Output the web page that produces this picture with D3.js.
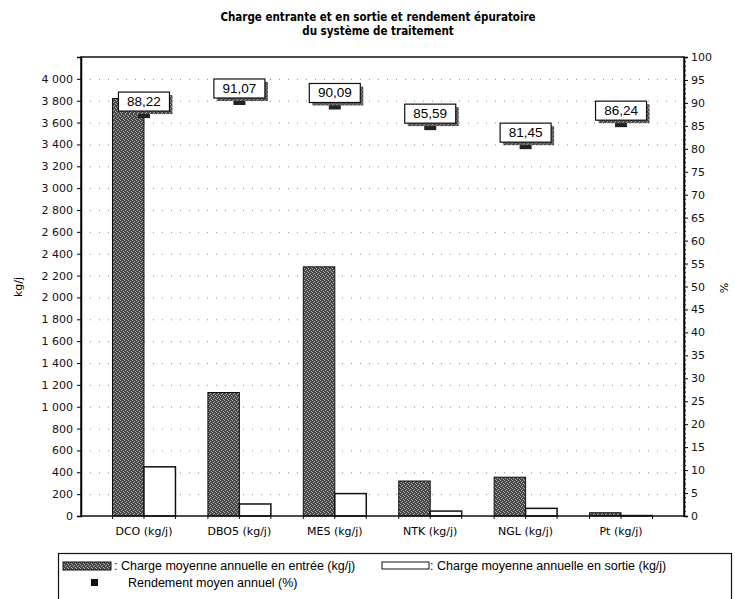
<!DOCTYPE html>
<html>
<head>
<meta charset="utf-8">
<script src="https://cdn.jsdelivr.net/npm/d3@7"></script>
<style>
  body { margin: 0; background: #fff; }
  svg { display: block; }
</style>
</head>
<body>
<svg id="chart"></svg>
<script>
// values
const categories = ["DCO (kg/j)", "DBO5 (kg/j)", "MES (kg/j)", "NTK (kg/j)", "NGL (kg/j)", "Pt (kg/j)"];
const chargeEntree = [3820, 1130, 2280, 320, 355, 30];
const chargeSortie = [450, 110, 205, 45, 70, 4];
const rendement = [88.22, 91.07, 90.09, 85.59, 81.45, 86.24];
const leftTicks = d3.range(0, 4001, 200);
const rightTicks = d3.range(0, 101, 5);
const titleLines = ["Charge entrante et en sortie et rendement épuratoire", "du système de traitement"];
const legendLabels = [
  "Charge moyenne annuelle en entrée (kg/j)",
  "Charge moyenne annuelle en sortie (kg/j)",
  "Rendement moyen annuel (%)"
];

const width = 735, height = 599;
const plotLeft = 81, plotRight = 684, plotTop = 57, plotBottom = 516;

const fr = d3.formatLocale({ decimal: ",", thousands: " ", grouping: [3], currency: ["", " €"] });
const fmtKg = fr.format(",");
const fmtPct = fr.format(".2f");

const svg = d3.select("#chart").attr("width", width).attr("height", height);

// stippled dark fill like the scanned bars
const defs = svg.append("defs");
const pat = defs.append("pattern")
  .attr("id", "stipple")
  .attr("width", 4).attr("height", 4)
  .attr("patternUnits", "userSpaceOnUse");
pat.append("rect").attr("width", 4).attr("height", 4).attr("fill", "#464646");
[[0, 0], [2, 1], [1, 2], [3, 3]].forEach(([px, py]) => {
  pat.append("rect").attr("x", px).attr("y", py).attr("width", 1).attr("height", 1).attr("fill", "#b0b0b0");
});

const x = d3.scaleBand()
  .domain(categories)
  .range([plotLeft, plotRight])
  .paddingInner(0.34)
  .paddingOuter(0.33);
const yL = d3.scaleLinear().domain([0, 4200]).range([plotBottom, plotTop]);
const yR = d3.scaleLinear().domain([0, 100]).range([plotBottom, plotTop]);
const half = x.bandwidth() / 2;

// title
svg.append("g")
  .selectAll("text")
  .data(titleLines)
  .enter()
  .append("text")
  .attr("x", 378)
  .attr("y", (d, i) => 21 + i * 14)
  .attr("text-anchor", "middle")
  .style("font-family", "'DejaVu Sans Condensed', 'DejaVu Sans', sans-serif")
  .style("font-weight", "bold")
  .style("font-size", "11.5px")
  .text((d) => d);

// dotted grid
svg.append("g")
  .selectAll("line")
  .data(leftTicks.filter((d) => d > 0))
  .enter()
  .append("line")
  .attr("x1", plotLeft).attr("x2", plotRight)
  .attr("y1", (d) => yL(d) + 0.5).attr("y2", (d) => yL(d) + 0.5)
  .attr("stroke", "#888")
  .attr("stroke-dasharray", "1,8");

// bars
const groups = svg.append("g")
  .selectAll("g")
  .data(categories)
  .enter()
  .append("g");

groups.append("rect")
  .attr("x", (d) => x(d))
  .attr("y", (d, i) => yL(chargeEntree[i]))
  .attr("width", half)
  .attr("height", (d, i) => plotBottom - yL(chargeEntree[i]))
  .attr("fill", "url(#stipple)")
  .attr("stroke", "#111")
  .attr("stroke-width", 1);

groups.append("rect")
  .attr("x", (d) => x(d) + half)
  .attr("y", (d, i) => yL(chargeSortie[i]))
  .attr("width", half)
  .attr("height", (d, i) => plotBottom - yL(chargeSortie[i]))
  .attr("fill", "#fff")
  .attr("stroke", "#111")
  .attr("stroke-width", 1.5);

// frame + axes
svg.append("rect")
  .attr("x", plotLeft).attr("y", plotTop)
  .attr("width", plotRight - plotLeft).attr("height", plotBottom - plotTop)
  .attr("fill", "none")
  .attr("stroke", "#111")
  .attr("stroke-width", 1.5);

const axisFont = (g) => g.selectAll("text")
  .style("font-family", "'DejaVu Sans', sans-serif")
  .style("font-size", "11px")
  .attr("fill", "#111");

const gLeft = svg.append("g")
  .attr("transform", `translate(${plotLeft},0)`)
  .call(d3.axisLeft(yL).tickValues(leftTicks).tickFormat(fmtKg).tickSize(4).tickPadding(4));
gLeft.select(".domain").attr("stroke-width", 1.5);
axisFont(gLeft);

const gRight = svg.append("g")
  .attr("transform", `translate(${plotRight},0)`)
  .call(d3.axisRight(yR).tickValues(rightTicks).tickSize(4).tickPadding(3));
gRight.select(".domain").attr("stroke-width", 1.5);
axisFont(gRight);

// minor ticks on the % axis
svg.append("g")
  .selectAll("line")
  .data(d3.range(0, 101, 1).filter((d) => d % 5 !== 0))
  .enter()
  .append("line")
  .attr("x1", plotRight).attr("x2", plotRight + 2)
  .attr("y1", (d) => yR(d)).attr("y2", (d) => yR(d))
  .attr("stroke", "#111");

// category axis: ticks at bar edges, labels under groups
const edges = categories.flatMap((d) => [x(d), x(d) + half, x(d) + 2 * half]);
svg.append("g")
  .selectAll("line")
  .data(edges)
  .enter()
  .append("line")
  .attr("x1", (d) => d).attr("x2", (d) => d)
  .attr("y1", plotBottom).attr("y2", plotBottom + 3)
  .attr("stroke", "#111");

svg.append("g")
  .selectAll("text")
  .data(categories)
  .enter()
  .append("text")
  .attr("x", (d) => x(d) + half)
  .attr("y", plotBottom + 19)
  .attr("text-anchor", "middle")
  .style("font-family", "'DejaVu Sans', sans-serif")
  .style("font-size", "11px")
  .text((d) => d);

// axis titles
svg.append("text")
  .attr("transform", "translate(22,287) rotate(-90)")
  .attr("text-anchor", "middle")
  .style("font-family", "'DejaVu Sans', sans-serif")
  .style("font-size", "11px")
  .text("kg/j");

svg.append("text")
  .attr("transform", "translate(720,288) rotate(90)")
  .attr("text-anchor", "middle")
  .style("font-family", "'DejaVu Sans', sans-serif")
  .style("font-size", "11px")
  .text("%");

// rendement markers with boxed labels
const boxW = 51, boxH = 19;
const marks = svg.append("g")
  .selectAll("g")
  .data(categories)
  .enter()
  .append("g")
  .attr("transform", (d, i) => `translate(${x(d) + half},${yR(rendement[i])})`);

marks.append("rect")
  .attr("x", -6).attr("y", 1)
  .attr("width", 12).attr("height", 6)
  .attr("fill", "#222");

marks.append("rect")
  .attr("x", -boxW / 2 + 3).attr("y", -boxH + 3)
  .attr("width", boxW).attr("height", boxH)
  .attr("fill", "url(#stipple)");

marks.append("rect")
  .attr("x", -boxW / 2).attr("y", -boxH)
  .attr("width", boxW).attr("height", boxH)
  .attr("fill", "#fff")
  .attr("stroke", "#111")
  .attr("stroke-width", 1.2);

marks.append("text")
  .attr("y", -5)
  .attr("text-anchor", "middle")
  .style("font-family", "'Liberation Sans', Arial, sans-serif")
  .style("font-size", "13.5px")
  .text((d, i) => fmtPct(rendement[i]));

// legend
const lg = svg.append("g");
lg.append("rect")
  .attr("x", 58.5).attr("y", 553.5)
  .attr("width", 673).attr("height", 60)
  .attr("fill", "#fff")
  .attr("stroke", "#111")
  .attr("stroke-width", 1.2);

lg.append("rect")
  .attr("x", 63).attr("y", 562)
  .attr("width", 48).attr("height", 8)
  .attr("fill", "url(#stipple)")
  .attr("stroke", "#111");
lg.append("rect")
  .attr("x", 382).attr("y", 562)
  .attr("width", 47).attr("height", 7)
  .attr("fill", "#fff")
  .attr("stroke", "#111");
lg.append("rect")
  .attr("x", 91).attr("y", 579)
  .attr("width", 7).attr("height", 7)
  .attr("fill", "#111");

const legendPos = [[114, 570, ": "], [430, 570, ": "], [128, 587, ""]];
lg.selectAll("text")
  .data(legendLabels)
  .enter()
  .append("text")
  .attr("x", (d, i) => legendPos[i][0])
  .attr("y", (d, i) => legendPos[i][1])
  .style("font-family", "'Liberation Sans', Arial, sans-serif")
  .style("font-size", "12.5px")
  .text((d, i) => legendPos[i][2] + d);
</script>
</body>
</html>
